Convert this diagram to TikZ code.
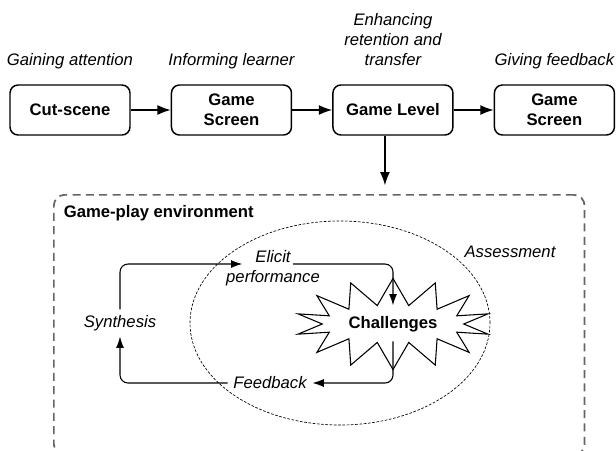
\documentclass[tikz,border=0pt]{standalone}
\usepackage{fontspec}
\setmainfont{Liberation Sans}
\usetikzlibrary{positioning,shapes.symbols,shapes.geometric,arrows.meta}

\definecolor{framegray}{RGB}{100,100,100}

\tikzset{
  stage/.style={draw,rounded corners=6pt,align=center,line width=1.1pt,minimum width=90pt,minimum height=37.5pt,font=\bfseries},
  phase/.style={align=center,font=\itshape},
  flow/.style={-{Latex[length=10pt,width=7.5pt]},line width=1.1pt},
  loopline/.style={-{Latex[length=8.5pt,width=6pt]},line width=0.8pt,rounded corners=6pt},
}

\begin{document}
\fontsize{12.5}{15}\selectfont
\begin{tikzpicture}[x=0.75pt,y=-0.75pt,node distance=30pt]
        \useasboundingbox (0,0) rectangle (616,450);
        \clip (0,0) rectangle (616,450);
        % top row of screens
        \node[stage] (cut) at (70,110) {Cut-scene};
        \node[stage,right=of cut] (screenA) {Game\\Screen};
        \node[stage,right=of screenA] (level) {Game Level};
        \node[stage,right=of level] (screenB) {Game\\Screen};
        \node[phase,above=7pt of cut] (gain) {Gaining attention};
        \node[phase,above=7pt of screenA] (inform) {Informing learner};
        \node[phase,above=7pt of level,text depth=2.6pt] (enhance) {Enhancing\\retention and\\transfer};
        \node[phase,above=7pt of screenB] (give) {Giving feedback};
        \draw[flow] (cut) -- (screenA);
        \draw[flow] (screenA) -- (level);
        \draw[flow] (level) -- (screenB);
        % game-play environment
        \node[draw=framegray,dashed,dash pattern=on 6pt off 4pt,line width=1.3pt,rounded corners=8pt,
              minimum width=398pt,minimum height=195pt,anchor=north west] (env) at (53,194) {};
        \node[font=\bfseries,anchor=west] (envlabel) at (58,213) {Game-play environment};
        \draw[flow] ([xshift=-6pt]level.south) -- ([xshift=-6pt,yshift=6.5pt]level.south |- env.north);
        % assessment loop
        \node[draw,ellipse,dashed,dash pattern=on 2pt off 1.2pt,line width=0.5pt,minimum width=225pt,minimum height=153pt] (assess) at (340,323) {};
        \node[phase] (assesslabel) at (510,252) {Assessment};
        \node[draw,starburst,starburst points=14,starburst point height=20pt,random starburst=0,
              line width=0.8pt,font=\bfseries,minimum width=120pt,minimum height=58pt] (chall) at (393,324) {Challenges};
        \node[phase] (elicit) at (273,268) {Elicit\\performance};
        \node[phase] (synthesis) at (120,323) {Synthesis};
        \node[phase] (feedback) at (270,383) {Feedback};
        \draw[loopline] (synthesis.north) |- ([xshift=-23pt,yshift=3pt]elicit.center);
        \draw[loopline] ([xshift=15pt,yshift=3pt]elicit.center) -| ([yshift=14pt]chall.center);
        \draw[loopline] ([yshift=-13pt]chall.center) |- (feedback.east);
        \draw[loopline] (feedback.west) -| (synthesis.south);
    \end{tikzpicture}
\end{document}
